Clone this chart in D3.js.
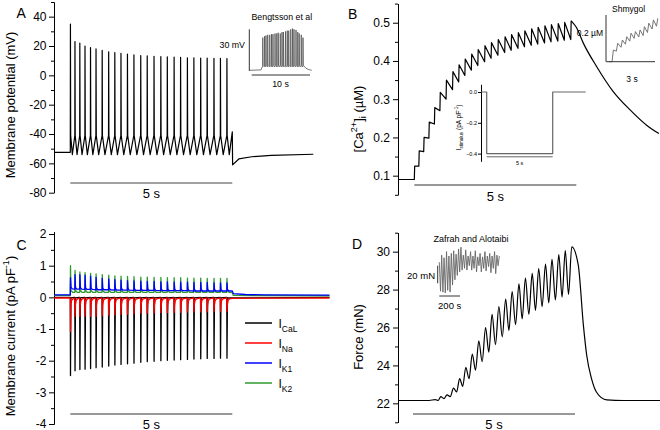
<!DOCTYPE html>
<html><head><meta charset="utf-8">
<script src="https://cdn.jsdelivr.net/npm/d3@7"></script>
<style>
body{margin:0;background:#fff;}
</style></head>
<body><svg id="fig" width="660" height="430"></svg>
<script>
// ================= DATA =================
// spike times (s) shared by panels A-D
const spikeTimes = [0, 0.14, 0.29, 0.45, 0.62, 0.79, 0.98, 1.18, 1.37, 1.56, 1.76, 1.96, 2.17, 2.37, 2.58, 2.79, 2.99, 3.2, 3.4, 3.61, 3.81, 4.02, 4.22, 4.43, 4.63, 4.83];

// Panel A: membrane potential (mV)
const vmPeak = [35, 23, 22, 20, 19, 18, 17, 16, 15.5, 15, 14.5, 14, 13.5, 13.3, 13, 12.8, 12.6, 12.4, 12.2, 12, 12, 11.8, 11.8, 11.6, 11.6, 11.5];
const vmRest = -52.5, vmTrough = -54, vmThreshold = -41;
const vmEndT = [5.0, 5.01, 5.2, 5.6, 6.2, 7.5];
const vmEndV = [-38.5, -61, -57, -55.5, -54.5, -53.8];
const aTicks = [-80, -60, -40, -20, 0, 20, 40];
const aMinor = [-70, -50, -30, -10, 10, 30, 50];

// Panel B: [Ca2+]i (uM)
const caRest = 0.09;
const caPeak = [0.125, 0.165, 0.2, 0.24, 0.278, 0.318, 0.35, 0.372, 0.39, 0.405, 0.418, 0.43, 0.44, 0.448, 0.456, 0.463, 0.469, 0.474, 0.479, 0.484, 0.488, 0.492, 0.495, 0.498, 0.501, 0.505];
const caTrough = [0.125, 0.163, 0.198, 0.235, 0.27, 0.3, 0.325, 0.345, 0.362, 0.376, 0.388, 0.398, 0.407, 0.415, 0.422, 0.428, 0.433, 0.437, 0.441, 0.444, 0.447, 0.45, 0.452, 0.454, 0.456];
const caDecayT = [5.0, 5.22, 5.63, 6.14, 6.66, 7.17, 7.55];
const caDecayV = [0.488, 0.446, 0.385, 0.32, 0.272, 0.232, 0.21];
const bTicks = [0.1, 0.2, 0.3, 0.4, 0.5];
const bMinor = [0.05, 0.15, 0.25, 0.35, 0.45, 0.55];

// Panel B inset: stimulus current (pA/pF)
const stimT = [-0.43, 0, 0, 5, 5, 7.5];
const stimV = [0, 0, -0.4, -0.4, 0, 0];
const stimTicks = [-0.4, -0.2, 0];

// Panel B inset (Shmygol): Ca (uM) teeth
const shmPeakT = [0.27, 0.54, 0.83, 1.1, 1.37, 1.64, 1.93, 2.2, 2.47, 2.76, 3.03];
const shmPeak = [0.05, 0.079, 0.093, 0.107, 0.122, 0.129, 0.136, 0.15, 0.165, 0.179, 0.186];
const shmTrough = [0.0, 0.045, 0.062, 0.075, 0.088, 0.1, 0.106, 0.112, 0.125, 0.14, 0.152];

// Panel A inset (Bengtsson): burst (mV)
const benSpikeT = [1.9, 2.2, 2.45, 2.75, 3.1, 3.4, 3.65, 4.0, 4.3, 4.55, 4.9, 5.2, 5.45, 5.8, 6.1, 6.35, 6.7, 7.0, 7.25, 7.6, 7.9, 8.15, 8.5, 8.8];
const benPeak = [24, 25, 25.5, 26, 26, 26.5, 26.5, 27, 27, 27.5, 27, 28, 28, 28.5, 29, 29, 30, 30.5, 30, 29.5, 28, 27, 26, 24];
const benRest = 0.5, benPlateau = 3;

// Panel C: membrane currents (pA/pF)
const caLMin = [-2.47, -2.32, -2.28, -2.27, -2.25, -2.22, -2.2, -2.17, -2.14, -2.12, -2.1, -2.08, -2.05, -2.03, -2.02, -2.0, -1.99, -1.98, -1.97, -1.96, -1.95, -1.94, -1.93, -1.93, -1.92, -1.92];
const naMin = [-1.08, -0.6, -0.6, -0.6, -0.6, -0.6, -0.58, -0.56, -0.55, -0.54, -0.53, -0.52, -0.5, -0.5, -0.49, -0.48, -0.48, -0.47, -0.47, -0.46, -0.46, -0.46, -0.45, -0.45, -0.45, -0.45];
const k1Peak = [0.62, 0.72, 0.72, 0.7, 0.67, 0.63, 0.6, 0.58, 0.56, 0.54, 0.53, 0.52, 0.51, 0.5, 0.5, 0.49, 0.49, 0.48, 0.48, 0.48, 0.47, 0.47, 0.47, 0.46, 0.46, 0.46];
const k1Base = [0.27, 0.26, 0.26, 0.25, 0.25, 0.24, 0.24, 0.24, 0.23, 0.23, 0.23, 0.22, 0.22, 0.22, 0.22, 0.21, 0.21, 0.21, 0.21, 0.21, 0.2, 0.2, 0.2, 0.2, 0.2, 0.2];
const k2Peak = [1.0, 0.85, 0.8, 0.78, 0.76, 0.74, 0.72, 0.7, 0.68, 0.67, 0.66, 0.65, 0.64, 0.64, 0.63, 0.63, 0.62, 0.62, 0.62, 0.61, 0.61, 0.61, 0.6, 0.6, 0.6, 0.6];
const k2Plateau = 0.16;
const cTicks = [-4, -3, -2, -1, 0, 1, 2];
const cMinor = [-3.5, -2.5, -1.5, -0.5, 0.5, 1.5];
const legendNames = ["CaL", "Na", "K1", "K2"];

// Panel D: force (mN)
const forceRest = 22.15;
const forcePeak = [22.2, 22.35, 22.45, 22.8, 23.3, 23.9, 24.6, 25.3, 26.0, 26.7, 27.1, 27.5, 27.9, 28.3, 28.6, 28.85, 29.1, 29.35, 29.6, 29.85, 30.05, 30.25];
const forceTrough = [22.15, 22.25, 22.35, 22.6, 22.9, 23.3, 23.75, 24.2, 24.7, 25.1, 25.5, 25.85, 26.15, 26.45, 26.7, 26.9, 27.1, 27.3, 27.45, 27.6, 27.75];
const forceDecayT = [5.1, 5.26, 5.36, 5.51, 5.66, 5.98, 6.5, 7.65];
const forceDecayV = [29.3, 26.1, 24.55, 23.3, 22.6, 22.18, 22.15, 22.15];
const dTicks = [22, 24, 26, 28, 30];
const dMinor = [21, 23, 25, 27, 29, 31];

// Panel D inset (Zafrah and Alotaibi)
const zafT = [0, 12, 23, 35, 46, 58, 70, 81, 93, 104, 116, 128, 139, 151, 162, 174, 186, 197, 209, 220, 232, 244, 255, 267, 278, 290, 302, 313, 325, 336, 348, 360, 371, 383, 394, 406, 418, 429, 441, 452, 464, 476, 487, 499, 510, 522, 534, 545, 557, 568, 580];
const zafF = [24, -9, 32, -10, 29, -11, 36, -8, 31, -10, 34, -2, 37, 4, 33, 9, 39, 13, 41, 15, 32, 17, 38, 15, 31, 20, 36, 15, 31, 17, 37, 13, 30, 20, 34, 13, 30, 17, 36, 14, 31, 19, 34, 12, 31, 17, 36, 11, 32, 20, 31];

// ================= DRAWING =================
const FONT = 'Arial, "Liberation Sans", Helvetica, sans-serif';
const svg = d3.select('#fig').attr('font-family', FONT);
svg.append('rect').attr('width', 660).attr('height', 430).attr('fill', '#fff');
const n = spikeTimes.length;

function txt(x, y, s, size, anchor, color) {
  return svg.append('text').attr('x', x).attr('y', y).attr('font-size', size)
    .attr('text-anchor', anchor || 'start').attr('fill', color || '#000').text(s);
}
function yAxis(x, scale, major, minor, fmt, size, fs, pad) {
  const g = svg.append('g').attr('transform', `translate(${x},0)`);
  g.call(d3.axisLeft(scale).tickValues(major).tickSize(size).tickSizeOuter(0).tickPadding(pad).tickFormat(fmt));
  if (minor) g.append('g').call(d3.axisLeft(scale).tickValues(minor).tickSize(3).tickSizeOuter(0).tickFormat(''));
  g.selectAll('text').attr('font-size', fs).attr('font-family', FONT).attr('fill', '#000');
  g.selectAll('path,line').attr('stroke', '#000');
  return g;
}
function drawPath(pts, xs, ys, color, w, curve) {
  const line = d3.line().x(d => xs(d[0])).y(d => ys(d[1])).curve(curve || d3.curveLinear);
  svg.append('path').attr('d', line(pts)).attr('fill', 'none').attr('stroke', color)
    .attr('stroke-width', w).attr('stroke-linejoin', 'round');
}
function hbar(x1, x2, y, color, w) {
  svg.append('line').attr('x1', x1).attr('x2', x2).attr('y1', y).attr('y2', y)
    .attr('stroke', color).attr('stroke-width', w);
}
function vbar(x, y1, y2, color, w) {
  svg.append('line').attr('x1', x).attr('x2', x).attr('y1', y1).attr('y2', y2)
    .attr('stroke', color).attr('stroke-width', w);
}
function rotTitle(x, y, parts, size) {
  const t = svg.append('text').attr('transform', `translate(${x},${y}) rotate(-90)`)
    .attr('text-anchor', 'middle').attr('font-size', size).attr('fill', '#000');
  parts.forEach(p => {
    const ts = t.append('tspan').text(p.s);
    if (p.sup) ts.attr('font-size', size * 0.7).attr('dy', -size * 0.4);
    if (p.sub) ts.attr('font-size', size * 0.7).attr('dy', size * 0.25);
    if (p.back) ts.attr('dy', p.back);
  });
  return t;
}

// ---------- Panel A ----------
const xA = d3.scaleLinear().domain([0, 5]).range([70.3, 232.3]);
const yA = d3.scaleLinear().domain([-80, 50]).range([192.7, 2]);
yAxis(54, yA, aTicks, aMinor, d => String(d), 5, 12, 2.5);
const aPts = [[-0.5, vmRest], [spikeTimes[0], vmRest]];
spikeTimes.forEach((t, i) => {
  const next = i < n - 1 ? spikeTimes[i + 1] : 5.0;
  aPts.push([t + 0.004, vmPeak[i]]);
  aPts.push([t + 0.012, vmThreshold]);
  aPts.push([t + 0.45 * (next - t), vmTrough]);
  if (i < n - 1) aPts.push([next, vmThreshold]);
});
vmEndT.forEach((t, i) => aPts.push([t, vmEndV[i]]));
drawPath(aPts, xA, yA, '#000', 1.2);
hbar(xA(0), xA(5), 183, '#444', 1.2);
txt(xA(2.5), 197.5, '5 s', 13, 'middle');
rotTitle(15, 105, [{s: 'Membrane potential (mV)'}], 13);
txt(16.5, 18.3, 'A', 14);

// A inset (Bengtsson)
const xBen = d3.scaleLinear().domain([0, 10]).range([251.7, 310]);
const yBen = d3.scaleLinear().domain([0, 30]).range([71, 29.3]);
const benPts = [[-0.3, benRest], [1.6, benRest + 0.3], [1.8, benPlateau]];
benSpikeT.forEach((t, i) => {
  benPts.push([t - 0.03, benPlateau]);
  benPts.push([t, benPeak[i]]);
  benPts.push([t + 0.05, benPlateau + 1]);
});
[[9.0, 3.5], [9.3, 2], [9.8, 1], [10.3, benRest]].forEach(p => benPts.push(p));
drawPath(benPts, xBen, yBen, '#555', 0.8);
vbar(249.3, 29.3, 71, '#333', 1);
hbar(251.7, 310, 75, '#333', 1);
txt(251.5, 20, 'Bengtsson et al', 8.8);
txt(245, 48, '30 mV', 8.8, 'end');
txt(280.5, 87, '10 s', 8.8, 'middle');

// ---------- Panel B ----------
const xB = d3.scaleLinear().domain([0, 5]).range([414.3, 576.3]);
const yB = d3.scaleLinear().domain([0.05, 0.55]).range([194.8, 3.6]);
yAxis(398, yB, bTicks, bMinor, d3.format('.1f'), 5, 12, 3);
const bPts = [[-0.5, caRest], [0, caRest]];
spikeTimes.forEach((t, i) => {
  bPts.push([t + 0.012, caPeak[i]]);
  if (i < n - 1) bPts.push([spikeTimes[i + 1], caTrough[i]]);
});
drawPath(bPts, xB, yB, '#000', 1.2);
const bDecay = [[spikeTimes[n - 1] + 0.012, caPeak[n - 1]]];
caDecayT.forEach((t, i) => bDecay.push([t, caDecayV[i]]));
drawPath(bDecay, xB, yB, '#000', 1.2, d3.curveMonotoneX);
hbar(xB(0), xB(5), 185, '#333', 1);
txt(xB(2.5), 200.5, '5 s', 13, 'middle');
rotTitle(362.5, 119, [{s: '[Ca'}, {s: '2+', sup: true}, {s: ']', back: 13 * 0.4}, {s: 'i', sub: true}, {s: ' (\u00b5M)', back: -13 * 0.25}], 13);
txt(348, 18.5, 'B', 14);

// B inset: stimulus
const xS = d3.scaleLinear().domain([0, 5]).range([486.7, 552.7]);
const yS = d3.scaleLinear().domain([-0.45, 0.05]).range([161.3, 84.3]);
yAxis(481, yS, stimTicks, null, d3.format('.1f'), 3, 5.5, 1);
drawPath(stimT.map((t, i) => [t, stimV[i]]), xS, yS, '#666', 1.2);
hbar(xS(0), xS(5), 156.8, '#666', 1);
txt(xS(2.5), 164.5, '5 s', 5.5, 'middle');
rotTitle(461, 127.5, [{s: 'I'}, {s: 'stimulus', sub: true}, {s: ' (pA pF', back: -6.5 * 0.25}, {s: '-1', sup: true}, {s: ')', back: 6.5 * 0.4}], 6.5);

// B inset: Shmygol
const xShm = d3.scaleLinear().domain([0, 3]).range([609, 657.3]);
const yShm = d3.scaleLinear().domain([0, 0.2]).range([61.7, 15]);
const shmPts = [[0, 0]];
shmPeakT.forEach((t, i) => {
  shmPts.push([t - 0.08, shmTrough[i]]);
  shmPts.push([t, shmPeak[i]]);
});
drawPath(shmPts, xShm, yShm, '#666', 0.9);
vbar(606, 15, 61.7, '#333', 1);
hbar(606, 655, 61.7, '#333', 1);
txt(612, 11.5, 'Shmygol', 8.5);
txt(603, 36, '0.2 \u00b5M', 8.5, 'end');
txt(632, 82, '3 s', 8.5, 'middle');

// ---------- Panel C ----------
const xC = d3.scaleLinear().domain([0, 5]).range([70.3, 232.3]);
const yC = d3.scaleLinear().domain([-4, 2.07]).range([424, 231.8]);
yAxis(54, yC, cTicks, cMinor, d => String(d), 5, 12, 2.5);
// CaL
const calPts = [[-0.5, 0], [0, 0]];
spikeTimes.forEach((t, i) => {
  calPts.push([t, 0]); calPts.push([t + 0.006, caLMin[i]]); calPts.push([t + 0.02, -0.02]);
});
calPts.push([8.0, 0]);
drawPath(calPts, xC, yC, '#000', 1.3);
// Na
const naPts = [[-0.5, -0.02], [0, -0.02]];
spikeTimes.forEach((t, i) => {
  naPts.push([t, -0.02]); naPts.push([t + 0.005, naMin[i]]); naPts.push([t + 0.015, -0.25]);
  naPts.push([t + 0.04, -0.1]); naPts.push([t + 0.08, -0.05]);
});
naPts.push([5.0, -0.03]); naPts.push([8.0, -0.02]);
drawPath(naPts, xC, yC, '#ff0000', 1.3);
// K2
const k2Pts = [[-0.5, 0.06], [0, 0.06]];
spikeTimes.forEach((t, i) => {
  k2Pts.push([t, k2Plateau]); k2Pts.push([t + 0.006, k2Peak[i]]); k2Pts.push([t + 0.02, 0.22]);
  k2Pts.push([t + 0.07, k2Plateau]);
});
k2Pts.push([5.0, 0.15]); k2Pts.push([5.03, 0.06]); k2Pts.push([8.0, 0.05]);
drawPath(k2Pts, xC, yC, '#2f9a2f', 1.3);
// K1
const k1Pts = [[-0.5, 0.08], [0, 0.08]];
spikeTimes.forEach((t, i) => {
  k1Pts.push([t, k1Base[i]]); k1Pts.push([t + 0.006, k1Peak[i]]); k1Pts.push([t + 0.02, k1Base[i] + 0.05]);
  k1Pts.push([t + 0.06, k1Base[i]]);
});
[[5.0, 0.2], [5.03, 0.12], [5.4, 0.09], [6.0, 0.075], [8.0, 0.07]].forEach(p => k1Pts.push(p));
drawPath(k1Pts, xC, yC, '#0000ff', 1.3);
hbar(xC(0), xC(5), 414, '#777', 1.5);
txt(xC(2.5), 428.5, '5 s', 13, 'middle');
rotTitle(14.5, 336, [{s: 'Membrane current (pA pF'}, {s: '-1', sup: true}, {s: ')', back: 13 * 0.4}], 13);
txt(16.5, 250, 'C', 14);
// legend
const legColors = ['#000', '#ff0000', '#0000ff', '#2f9a2f'];
legendNames.forEach((nm, i) => {
  const y = 323 + 20 * i;
  hbar(245, 272, y, legColors[i], 1.5);
  const t = svg.append('text').attr('x', 278.5).attr('y', y + 5).attr('font-size', 12).attr('fill', '#000');
  t.append('tspan').text('I');
  t.append('tspan').text(nm).attr('font-size', 8.5).attr('dy', 3.5);
});

// ---------- Panel D ----------
const xD = d3.scaleLinear().domain([0, 5]).range([413, 575]);
const yD = d3.scaleLinear().domain([21, 31]).range([422.3, 232.7]);
yAxis(398, yD, dTicks, dMinor, d => String(d), 5, 12, 3);
const lag = 0.07;
const dPts = [[-0.46, forceRest], [0.5, forceRest]];
forcePeak.forEach((v, k) => {
  const i = k + 4;
  dPts.push([spikeTimes[i] + lag, v]);
  if (k < forceTrough.length) dPts.push([(spikeTimes[i] + spikeTimes[i + 1]) / 2 + lag, forceTrough[k]]);
});
forceDecayT.forEach((t, i) => dPts.push([t, forceDecayV[i]]));
drawPath(dPts, xD, yD, '#000', 1.2, d3.curveMonotoneX);
hbar(xD(0), xD(5), 414, '#333', 1);
txt(xD(2.5), 428.5, '5 s', 13, 'middle');
rotTitle(363, 337, [{s: 'Force (mN)'}], 13);
txt(352, 248.5, 'D', 14);

// D inset (Zafrah and Alotaibi)
const xZ = d3.scaleLinear().domain([0, 200]).range([439.3, 460]);
const yZ = d3.scaleLinear().domain([0, 20]).range([283.3, 265.7]);
drawPath(zafT.map((t, i) => [t, zafF[i]]), xZ, yZ, '#666', 0.9);
vbar(437.7, 265.7, 283.3, '#333', 1);
hbar(439.3, 460, 296, '#333', 1);
txt(433.5, 242, 'Zafrah and Alotaibi', 9);
txt(435, 279, '20 mN', 9.5, 'end');
txt(449.7, 308.5, '200 s', 9.5, 'middle');
</script>
</body></html>
